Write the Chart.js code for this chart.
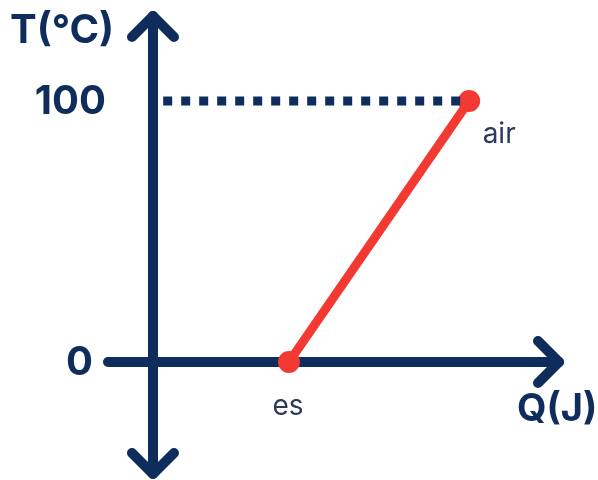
<!DOCTYPE html>
<html>
<head>
<meta charset="utf-8">
<script src="https://cdn.jsdelivr.net/npm/chart.js@4"></script>
<style>
  html, body { margin: 0; padding: 0; background: #fff; }
  #wrap { width: 598px; height: 480px; }
</style>
</head>
<body>
<div id="wrap"><canvas id="c"></canvas></div>
<script>
// datos de la gráfica
const pointLabels = ['es', 'air'];
const qValues = [40, 93];
const tValues = [0, 100];
const tickLabels = ['0', '100'];
const tickValues = [0, 100];
const xTitle = 'Q(J)';
const yTitle = 'T(°C)';

const NAVY = '#0e2d5c';
const RED = '#f23a33';

// ejes con flechas, etiquetas y títulos
const axesPlugin = {
  id: 'axesPlugin',
  beforeDatasetsDraw(chart) {
    const { ctx, scales: { x, y } } = chart;
    const x0 = x.getPixelForValue(0);
    const y0 = y.getPixelForValue(0);
    ctx.save();
    ctx.strokeStyle = NAVY;
    ctx.lineWidth = 10;
    ctx.lineCap = 'round';
    ctx.lineJoin = 'round';
    const top = 16, bottom = 474, left = 108, right = 559;
    ctx.beginPath();
    ctx.moveTo(x0, top); ctx.lineTo(x0, bottom);
    ctx.moveTo(left, y0); ctx.lineTo(right, y0);
    ctx.stroke();
    const a = 21;
    ctx.beginPath();
    ctx.moveTo(x0 - a, top + a); ctx.lineTo(x0, top); ctx.lineTo(x0 + a, top + a);
    ctx.moveTo(x0 - a, bottom - a); ctx.lineTo(x0, bottom); ctx.lineTo(x0 + a, bottom - a);
    ctx.moveTo(right - a, y0 - a); ctx.lineTo(right, y0); ctx.lineTo(right - a, y0 + a);
    ctx.stroke();
    ctx.restore();
  },
  afterDatasetsDraw(chart) {
    const { ctx, scales: { x, y } } = chart;
    ctx.save();
    ctx.fillStyle = NAVY;
    ctx.font = 'bold 40px Inter';
    ctx.textBaseline = 'middle';
    ctx.textAlign = 'right';
    ctx.fillText(tickLabels[0], 93, y.getPixelForValue(tickValues[0]) + 1);
    ctx.fillText(tickLabels[1], 106, y.getPixelForValue(tickValues[1]) + 1);
    ctx.textAlign = 'left';
    ctx.fillText(yTitle, 10, 31);
    ctx.font = 'bold 38px Inter';
    ctx.fillText(xTitle, 517, 410);
    ctx.font = '28px Inter';
    ctx.fillStyle = '#2a3a5c';
    ctx.textAlign = 'center';
    ctx.fillText(pointLabels[0], x.getPixelForValue(qValues[0]) - 1, 407);
    ctx.fillText(pointLabels[1], x.getPixelForValue(qValues[1]) + 30, 135);
    ctx.restore();
  }
};

new Chart(document.getElementById('c'), {
  type: 'line',
  data: {
    datasets: [
      {
        data: [{ x: 3, y: tValues[1] }, { x: qValues[1], y: tValues[1] }],
        borderColor: NAVY,
        borderWidth: 9,
        borderDash: [9, 9],
        borderCapStyle: 'butt',
        pointRadius: 0
      },
      {
        data: qValues.map((q, i) => ({ x: q, y: tValues[i] })),
        borderColor: RED,
        backgroundColor: RED,
        borderWidth: 9,
        pointRadius: 11,
        pointBorderWidth: 0
      }
    ]
  },
  plugins: [axesPlugin],
  options: {
    responsive: true,
    maintainAspectRatio: false,
    animation: false,
    layout: { padding: 0, autoPadding: false },
    plugins: { legend: { display: false }, tooltip: { enabled: false } },
    scales: {
      x: { type: 'linear', display: false, min: -45, max: 130.9 },
      y: { type: 'linear', display: false, min: -45.2, max: 138.7 }
    }
  }
});
</script>
</body>
</html>
